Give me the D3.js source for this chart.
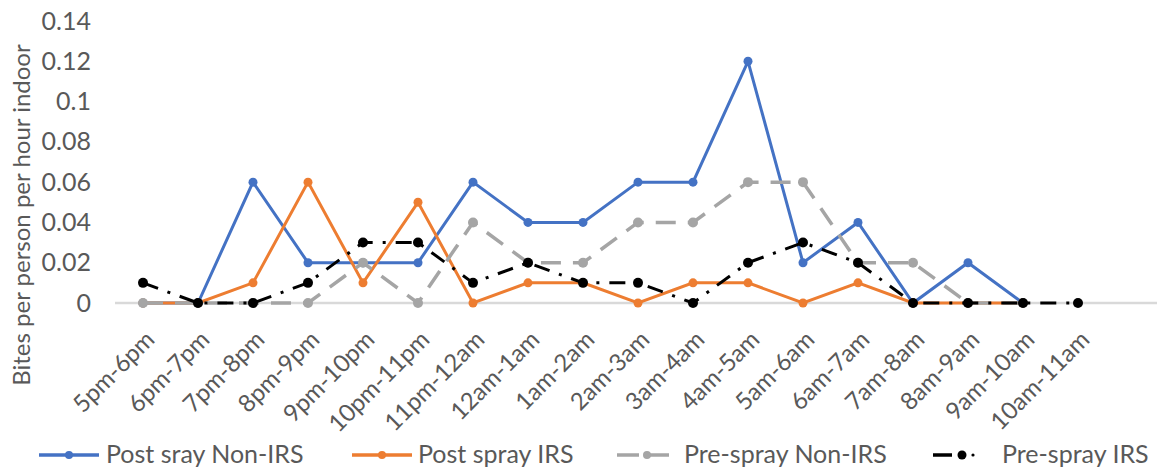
<!DOCTYPE html>
<html lang="en">
<head>
<meta charset="UTF-8">
<title>Bites per person per hour indoor</title>
<style>
body { margin: 0; background: #fff; }
svg text { font-family: Lato, "Open Sans", sans-serif; fill: #595959; }
</style>
</head>
<body>
<svg width="1157" height="473"></svg>
<script src="https://d3js.org/d3.v7.min.js"></script>
<script>

// categories on the x axis
const hours = ['5pm-6pm', '6pm-7pm', '7pm-8pm', '8pm-9pm', '9pm-10pm', '10pm-11pm',
    '11pm-12am', '12am-1am', '1am-2am', '2am-3am', '3am-4am', '4am-5am',
    '5am-6am', '6am-7am', '7am-8am', '8am-9am', '9am-10am', '10am-11am'];

// series values
const postNonIRS = [0, 0, 0.06, 0.02, 0.02, 0.02, 0.06, 0.04, 0.04, 0.06, 0.06, 0.12, 0.02, 0.04, 0, 0.02, 0];
const postIRS    = [0, 0, 0.01, 0.06, 0.01, 0.05, 0, 0.01, 0.01, 0, 0.01, 0.01, 0, 0.01, 0, 0, 0];
const preNonIRS  = [0, 0, 0, 0, 0.02, 0, 0.04, 0.02, 0.02, 0.04, 0.04, 0.06, 0.06, 0.02, 0.02, 0, 0];
const preIRS     = [0.01, 0, 0, 0.01, 0.03, 0.03, 0.01, 0.02, 0.01, 0.01, 0, 0.02, 0.03, 0.02, 0, 0, 0, 0];

const yTicks = [0, 0.02, 0.04, 0.06, 0.08, 0.1, 0.12, 0.14];

const series = [
    { name: 'Post sray Non-IRS', values: postNonIRS, color: '#4472C4', dash: null, r: 4.5, w: 3 },
    { name: 'Post spray IRS', values: postIRS, color: '#ED7D31', dash: null, r: 4.5, w: 3 },
    { name: 'Pre-spray Non-IRS', values: preNonIRS, color: '#A5A5A5', dash: '20,12', r: 5, w: 3.5 },
    { name: 'Pre-spray IRS', values: preIRS, color: '#000000', dash: '16,10,3,10', r: 5, w: 3 }
];

const svg = d3.select('svg');
const width = +svg.attr('width');
const font = 'Lato, "Open Sans", sans-serif';

const x = d3.scaleBand().domain(hours).range([115.5, 115.5 + 55 * hours.length]);
const y = d3.scaleLinear().domain([0, 0.14]).range([303, 21]);
const cx = d => x(d) + x.bandwidth() / 2;

// baseline
svg.append('line')
    .attr('x1', 115).attr('x2', width)
    .attr('y1', y(0)).attr('y2', y(0))
    .attr('stroke', '#D9D9D9').attr('stroke-width', 2.5);

// y axis labels
const yAxis = svg.append('g')
    .attr('transform', 'translate(91,0)')
    .call(d3.axisLeft(y).tickValues(yTicks).tickSize(0).tickPadding(0)
        .tickFormat(d => String(+d.toFixed(2))));
yAxis.select('.domain').remove();
yAxis.selectAll('text')
    .attr('font-size', 25)
    .attr('fill', '#595959')
    .style('font-family', font);

// x axis labels
const xAxis = svg.append('g')
    .attr('transform', `translate(0, ${y(0)})`)
    .call(d3.axisBottom(x).tickSize(0).tickPadding(0));
xAxis.select('.domain').remove();
xAxis.selectAll('text')
    .attr('font-size', 24)
    .attr('fill', '#595959')
    .style('font-family', font)
    .attr('text-anchor', 'end')
    .attr('y', 0)
    .attr('dy', 0)
    .attr('transform', 'translate(13,38) rotate(-45)');

// y title
svg.append('text')
    .attr('transform', 'translate(30,215) rotate(-90)')
    .attr('text-anchor', 'middle')
    .attr('font-size', 24)
    .text('Bites per person per hour indoor');

// lines
const line = d3.line()
    .x((d, i) => cx(hours[i]))
    .y(d => y(d));

series.forEach(s => {
    svg.append('path')
        .datum(s.values)
        .attr('fill', 'none')
        .attr('stroke', s.color)
        .attr('stroke-width', s.w)
        .attr('stroke-dasharray', s.dash)
        .attr('d', line);
    svg.append('g').selectAll('circle')
        .data(s.values)
        .join('circle')
        .attr('cx', (d, i) => cx(hours[i]))
        .attr('cy', d => y(d))
        .attr('r', s.r)
        .attr('fill', s.color);
});

// legend
const legendX = [39, 352, 617, 933];
const legendText = [106, 418, 684, 1002];
const ly = 455;
const legend = svg.append('g');
series.forEach((s, i) => {
    const g = legend.append('g');
    const x0 = legendX[i], x1 = x0 + 60;
    if (i === 3) {
        g.append('line').attr('x1', x0).attr('x2', x0 + 19).attr('y1', ly).attr('y2', ly)
            .attr('stroke', s.color).attr('stroke-width', 3.5);
        g.append('circle').attr('cx', x0 + 29).attr('cy', ly).attr('r', 4.5).attr('fill', s.color);
        g.append('circle').attr('cx', x0 + 40).attr('cy', ly).attr('r', 1.6).attr('fill', s.color);
    } else {
        g.append('line').attr('x1', x0).attr('x2', x1).attr('y1', ly).attr('y2', ly)
            .attr('stroke', s.color).attr('stroke-width', 3.5)
            .attr('stroke-dasharray', s.dash ? '22,8' : null);
        g.append('circle').attr('cx', (x0 + x1) / 2).attr('cy', ly).attr('r', 4).attr('fill', s.color);
    }
    g.append('text')
        .attr('x', legendText[i]).attr('y', 463)
        .attr('font-size', 25)
        .text(s.name);
});

</script>
</body>
</html>
